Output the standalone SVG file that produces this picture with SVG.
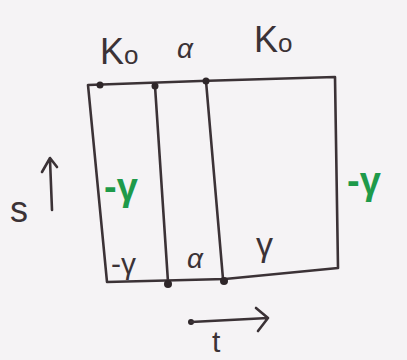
<svg xmlns="http://www.w3.org/2000/svg" width="407" height="360" viewBox="0 0 407 360">
<style>
.ln{fill:none;stroke:#3b3236;stroke-width:2.6;stroke-linecap:round;stroke-linejoin:round}
.t{font-family:"Liberation Sans",Arial,sans-serif;fill:#3b3236}
.g{font-family:"Liberation Sans",Arial,sans-serif;fill:#1e9a4a;font-weight:bold}
.dot{fill:#2e2629}
</style>
<rect width="407" height="360" fill="#f5f3f5"/>
<g id="box">
<path class="ln" d="M88,85 L200,81 L335,77 L338,268 L225,279 L107,282 Z"/>
</g>
<g id="connectors">
<path class="ln" d="M155,86 L168,282"/>
<path class="ln" d="M206,81 L223,279"/>
<circle class="dot" cx="100" cy="85" r="3.5"/>
<circle class="dot" cx="155" cy="86" r="3.5"/>
<circle class="dot" cx="206" cy="81" r="3.5"/>
<circle class="dot" cx="168" cy="284" r="4"/>
<circle class="dot" cx="224" cy="281" r="4"/>
<path class="ln" d="M52,210 L50,160 M42,172 L50,158 L57,167"/>
<circle class="dot" cx="191" cy="322" r="3"/>
<path class="ln" d="M191,322 L268,318 M256,308 L268,318 L258,331"/>
</g>
<g id="labels">
<text class="t" x="100" y="64" font-size="36">K<tspan font-size="26">o</tspan></text>
<text class="t" x="177" y="58" font-size="28" font-style="italic">α</text>
<text class="t" x="254" y="52" font-size="36">K<tspan font-size="26">o</tspan></text>
<text class="g" x="104" y="200" font-size="38">-γ</text>
<text class="g" x="347" y="194" font-size="38">-γ</text>
<text class="t" x="111" y="274" font-size="30">-γ</text>
<text class="t" x="187" y="268" font-size="28" font-style="italic">α</text>
<text class="t" x="256" y="256" font-size="34">γ</text>
<text class="t" x="10" y="222" font-size="36">s</text>
<text class="t" x="212" y="352" font-size="30">t</text>
</g>
</svg>
